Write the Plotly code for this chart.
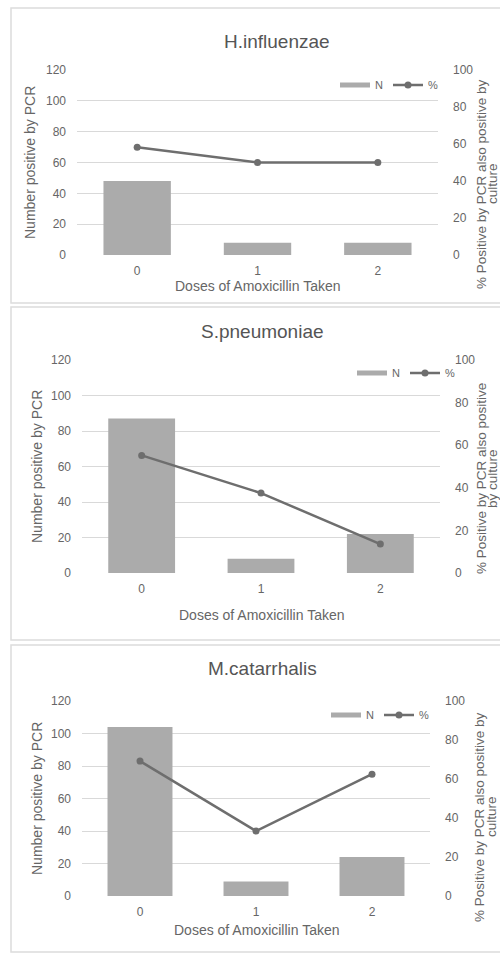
import plotly.graph_objects as go

# ---------------- data ----------------
doses = ["0", "1", "2"]
titles = ["H.influenzae", "S.pneumoniae", "M.catarrhalis"]
hinf_n = [48, 8, 8]
hinf_pct = [58.3, 50.0, 50.0]
spn_n = [87, 8, 22]
spn_pct = [55.2, 37.5, 13.6]
mcat_n = [104, 9, 24]
mcat_pct = [69.2, 33.3, 62.5]
left_ticks = [0, 20, 40, 60, 80, 100, 120]
right_ticks = [0, 20, 40, 60, 80, 100]
x_title = "Doses of Amoxicillin Taken"
y_title = "Number positive by PCR"
y2_title_line1 = [
    "% Positive by PCR also positive by",
    "% Positive by PCR also positive",
    "% Positive by PCR also positive by",
]
y2_title_line2 = ["culture", "by culture", "culture"]
series_n = [hinf_n, spn_n, mcat_n]
series_pct = [hinf_pct, spn_pct, mcat_pct]

# ---------------- layout geometry (pixels) ----------------
W, H = 500, 954
def px(x):
    return x / W
def py(y):
    return 1 - y / H

panels = [
    dict(x0=77, x1=438, top=70, bottom=255, box=(11, 8, 303), title=(277, 42),
         ytitle=(30, 163), y2title=(481, 492, 184), xtitle=286, legend=(443, 85)),
    dict(x0=82, x1=440, top=360, bottom=573, box=(11, 307, 640), title=(262, 331),
         ytitle=(37, 467), y2title=(481, 492, 479), xtitle=615, legend=(460, 373)),
    dict(x0=82, x1=430, top=701, bottom=896, box=(11, 645, 952), title=(262, 668),
         ytitle=(37, 799), y2title=(479, 491, 817), xtitle=930, legend=(434, 715)),
]

FONT = "Liberation Sans"
BAR = "#ababab"
LINE = "#6e6e6e"
GRID = "#d9d9d9"
TXT = "#666666"
TITLE = "#555555"

fig = go.Figure()
layout = dict(
    width=W, height=H, margin=dict(l=0, r=0, t=0, b=0, autoexpand=False),
    paper_bgcolor="white", plot_bgcolor="white", bargap=0.44,
    font=dict(family=FONT, color=TXT),
)
annotations = []
shapes = []

def ann(text, x, y, size, color=TXT, angle=0):
    return dict(text=text, x=px(x), y=py(y), xref="paper", yref="paper", showarrow=False,
                textangle=angle, xanchor="center", yanchor="middle",
                font=dict(family=FONT, size=size, color=color))

for i, p in enumerate(panels):
    k = i + 1
    xa = "x" if k == 1 else f"x{k}"
    ya = "y" if k == 1 else f"y{2*k-1}"
    ya2 = f"y{2*k}"
    leg = "legend" if k == 1 else f"legend{k}"

    fig.add_trace(go.Bar(x=doses, y=series_n[i], marker=dict(color=BAR, line=dict(width=0)),
                         xaxis=xa, yaxis=ya, showlegend=False, name="N"))
    # legend proxy for the column series (Excel-style wide swatch)
    fig.add_trace(go.Scatter(x=[None], y=[None], mode="lines", line=dict(color=BAR, width=5),
                             name="N", xaxis=xa, yaxis=ya, legend=leg))
    fig.add_trace(go.Scatter(x=doses, y=series_pct[i], mode="lines+markers",
                             line=dict(color=LINE, width=2.5),
                             marker=dict(color=LINE, size=7, symbol="circle"),
                             name="%", xaxis=xa, yaxis=ya2, legend=leg))

    xkey = "xaxis" if k == 1 else f"xaxis{k}"
    ykey = "yaxis" if k == 1 else f"yaxis{2*k-1}"
    y2key = f"yaxis{2*k}"
    ydom = [py(p["bottom"]), py(p["top"])]
    layout[xkey] = dict(domain=[px(p["x0"]), px(p["x1"])], anchor=ya, type="category",
                        range=[-0.5, 2.5], showgrid=False, zeroline=False, showline=False,
                        ticks="", ticklabelstandoff=7, automargin=False,
                        tickfont=dict(family=FONT, size=12, color=TXT), fixedrange=True)
    layout[ykey] = dict(domain=ydom, anchor=xa, range=[0, 120], tickvals=left_ticks,
                        showgrid=True, gridcolor=GRID, gridwidth=1, zeroline=False,
                        showline=False, ticks="", ticklabelstandoff=10, automargin=False,
                        tickfont=dict(family=FONT, size=12, color=TXT))
    layout[y2key] = dict(domain=ydom, anchor=xa, overlaying=ya, side="right", range=[0, 100],
                         tickvals=right_ticks, showgrid=False, zeroline=False, showline=False,
                         ticks="", ticklabelstandoff=14, automargin=False,
                         tickfont=dict(family=FONT, size=12, color=TXT))
    layout[leg] = dict(orientation="h", x=px(p["legend"][0]), y=py(p["legend"][1]),
                       xanchor="right", yanchor="middle", bgcolor="rgba(0,0,0,0)",
                       font=dict(family=FONT, size=11, color=TXT), itemwidth=30,
                       tracegroupgap=0)

    bx0, by0, by1 = p["box"]
    shapes.append(dict(type="rect", xref="paper", yref="paper", x0=px(bx0), x1=px(W + 20),
                       y0=py(by1), y1=py(by0), line=dict(color="#dcdcdc", width=1.5),
                       layer="below"))

    annotations.append(ann(titles[i], p["title"][0], p["title"][1], 19, TITLE))
    annotations.append(ann(y_title, p["ytitle"][0], p["ytitle"][1], 14, angle=-90))
    x1_, x2_, yc = p["y2title"]
    annotations.append(ann(y2_title_line1[i], x1_, yc, 13.5, angle=-90))
    annotations.append(ann(y2_title_line2[i], x2_, yc, 13.5, angle=-90))
    annotations.append(ann(x_title, (p["x0"] + p["x1"]) / 2, p["xtitle"], 14))

layout["annotations"] = annotations
layout["shapes"] = shapes
fig.update_layout(**layout)
fig.write_html("out.html",
               config={"displayModeBar": False, "staticPlot": True},
               post_script="document.body.style.margin='0px';"
                           "document.body.style.overflow='hidden';"
                           "document.documentElement.style.overflow='hidden';")
